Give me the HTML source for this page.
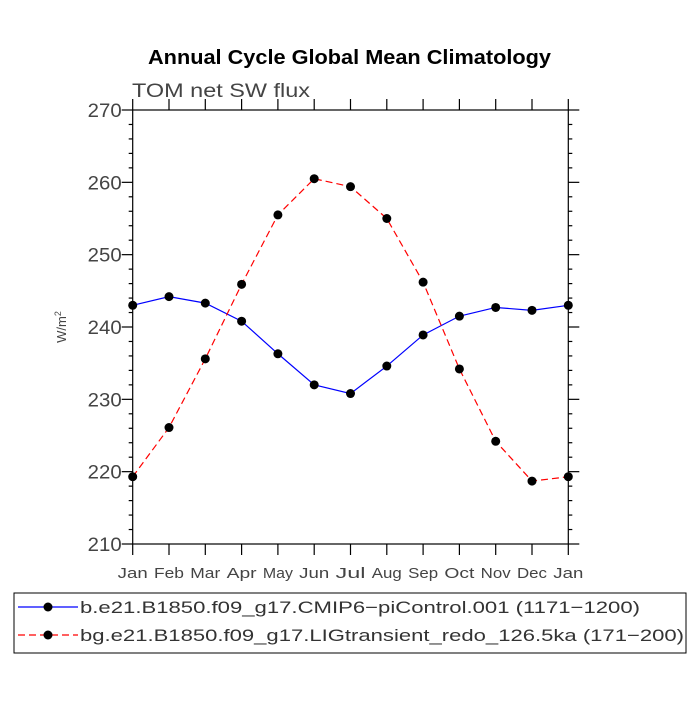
<!DOCTYPE html>
<html><head><meta charset="utf-8"><style>
body{margin:0;background:#fff}
svg text{font-family:"Liberation Sans",sans-serif}
</style></head><body>
<svg id="c" width="700" height="700" xmlns="http://www.w3.org/2000/svg">
<text x="148" y="64" textLength="403" lengthAdjust="spacingAndGlyphs" font-size="20" font-weight="bold">Annual Cycle Global Mean Climatology</text>
<text x="132" y="97" textLength="178" lengthAdjust="spacingAndGlyphs" font-size="19" fill="#444">TOM net SW flux</text>
<text transform="translate(66,327) rotate(-90)" text-anchor="middle" font-size="13" fill="#444">W/m<tspan dy="-5" font-size="9">2</tspan></text>
<rect x="132.7" y="110" width="435.6" height="434" fill="none" stroke="#000" stroke-width="1.2"/>
<g id="axes"></g>
<g id="series"></g>
<rect x="14" y="593" width="672" height="60" fill="none" stroke="#000"/>
<g>
<line x1="18" y1="607" x2="78" y2="607" stroke="#00f" stroke-width="1.2"/>
<circle cx="48" cy="607" r="4.5"/>
<text x="80" y="613" textLength="560" lengthAdjust="spacingAndGlyphs" font-size="17" fill="#333">b.e21.B1850.f09_g17.CMIP6−piControl.001 (1171−1200)</text>
</g>
<g>
<line x1="18" y1="635" x2="78" y2="635" stroke="#f00" stroke-width="1.2" stroke-dasharray="7,4"/>
<circle cx="48" cy="635" r="4.5"/>
<text x="80" y="641" textLength="604" lengthAdjust="spacingAndGlyphs" font-size="17" fill="#333">bg.e21.B1850.f09_g17.LIGtransient_redo_126.5ka (171−200)</text>
</g>
</svg>
<script>
const months=["Jan","Feb","Mar","Apr","May","Jun","Jul","Aug","Sep","Oct","Nov","Dec","Jan"];
const blueValues=[243.0,244.2,243.3,240.8,236.3,232.0,230.8,234.6,238.9,241.5,242.7,242.3,243.0];
const redValues=[219.3,226.1,235.6,245.9,255.5,260.5,259.4,255.0,246.2,234.2,224.2,218.7,219.3];
const yTicks=[210,220,230,240,250,260,270];
const NS="http://www.w3.org/2000/svg";
const x0=132.7,x1=568.3,yTop=110,yBot=544,vMin=210,vMax=270;
const xs=i=>x0+i*(x1-x0)/(months.length-1);
const ys=v=>yBot-(v-vMin)/(vMax-vMin)*(yBot-yTop);
function mk(t,a,p){const e=document.createElementNS(NS,t);for(const k in a)e.setAttribute(k,a[k]);p.appendChild(e);return e;}
const ax=document.getElementById('axes');
months.forEach((m,i)=>{
 const x=xs(i);
 mk('line',{x1:x,y1:yBot,x2:x,y2:yBot+11,stroke:'#000','stroke-width':1.2},ax);
 mk('line',{x1:x,y1:yTop,x2:x,y2:yTop-11,stroke:'#000','stroke-width':1.2},ax);
 const t=mk('text',{x:x,y:yBot+34,'text-anchor':'middle','font-size':15,fill:'#444',textLength:m.length*10,lengthAdjust:'spacingAndGlyphs'},ax);
 t.textContent=m;
 
 
});
for(let v=vMin;v<=vMax;v+=2){
 const y=ys(v),maj=(v%10===0);
 mk('line',{x1:x0,y1:y,x2:x0-(maj?11:4),y2:y,stroke:'#000','stroke-width':1.2},ax);
 mk('line',{x1:x1,y1:y,x2:x1+(maj?11:4),y2:y,stroke:'#000','stroke-width':1.2},ax);
}
yTicks.forEach(v=>{
 const t=mk('text',{x:x0-11,y:ys(v)+7,'text-anchor':'end','font-size':19,fill:'#444',textLength:34,lengthAdjust:'spacingAndGlyphs'},ax);
 t.textContent=v;
 
 
});
const sg=document.getElementById('series');
function series(vals,color,dash,name){
 const g=mk('g',{},sg);
 
 
 const pl=mk('polyline',{points:vals.map((v,i)=>xs(i)+','+ys(v)).join(' '),fill:'none',stroke:color,'stroke-width':1.2},g);
 if(dash)pl.setAttribute('stroke-dasharray',dash);
 vals.forEach((v,i)=>{const c=mk('circle',{cx:xs(i),cy:ys(v),r:4.5},g);
  
  });
}
series(blueValues,'#00f',null,'series-picontrol');
series(redValues,'#f00','7,4','series-lig');
</script>
</body></html>
